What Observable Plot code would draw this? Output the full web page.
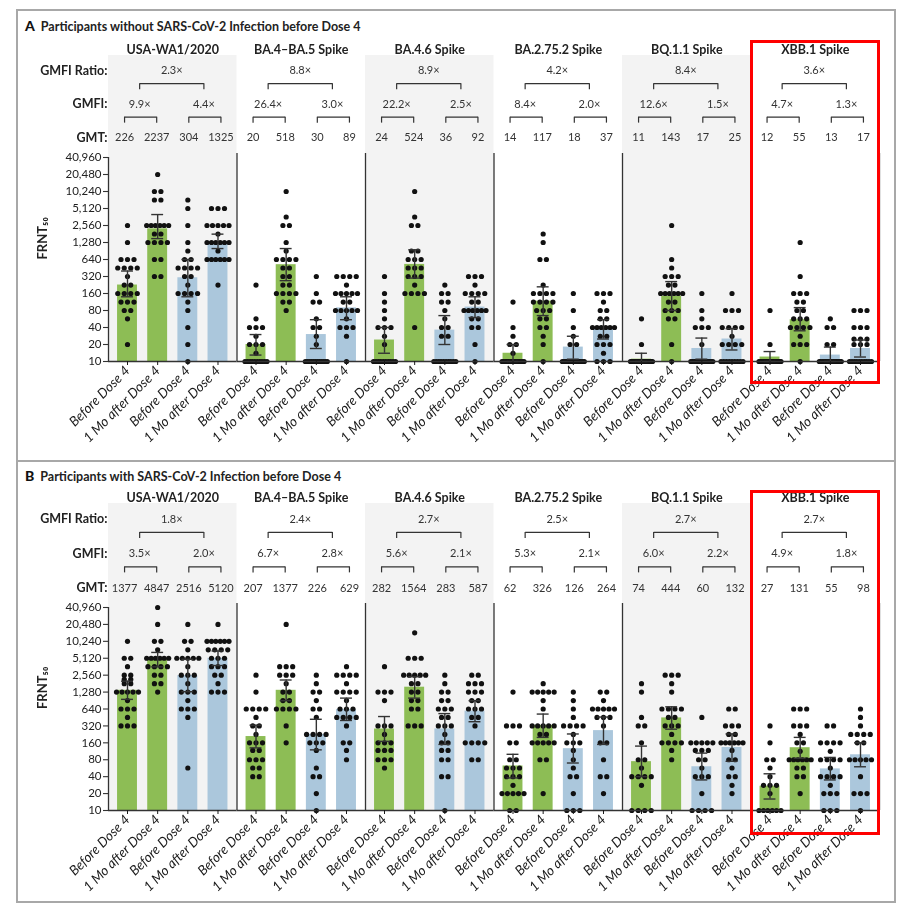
<!DOCTYPE html>
<html><head><meta charset="utf-8">
<script src="https://cdn.jsdelivr.net/npm/d3@7"></script>
<script src="https://cdn.jsdelivr.net/npm/@observablehq/plot@0.6"></script>
<style>
body{margin:0;background:#fff;font-family:Lato,"Open Sans",sans-serif;}
#page{position:relative;width:899px;height:906px;overflow:hidden;background:#fff;}
.abs{position:absolute;}
.ptitle{font-weight:bold;font-size:12.5px;color:#222;white-space:nowrap;}
.ptitle b{font-size:14px;margin-right:6px;color:#111;}
.redbox{position:absolute;border:3px solid #ff0000;box-sizing:border-box;}
svg{will-change:transform;}
</style></head><body><div id="page"></div>
<script>
// ---------- shared categories ----------
const groups = ["USA-WA1/2020","BA.4–BA.5 Spike","BA.4.6 Spike","BA.2.75.2 Spike","BQ.1.1 Spike","XBB.1 Spike"];
const slots = ["B1","A1","B2","A2"];
const slotLabels = ["Before Dose 4","1 Mo after Dose 4","Before Dose 4","1 Mo after Dose 4"];
const yTicks = [10,20,40,80,160,320,640,1280,2560,5120,10240,20480,40960];
const shadedGroups = ["USA-WA1/2020","BA.4.6 Spike","BQ.1.1 Spike"];
const headerRows = ["ratio","b1","gmfi","b2","gmt"];
const headerRowLabels = ["GMFI Ratio:","","GMFI:","","GMT:"];

// ---------- Panel A : without infection ----------
const titleA = "Participants without SARS-CoV-2 Infection before Dose 4";
const ratioA = [2.3,8.8,8.9,4.2,8.4,3.6];
const gmfiA = [[9.9,4.4],[26.4,3.0],[22.2,2.5],[8.4,2.0],[12.6,1.5],[4.7,1.3]];
const gmtA = [[226,2237,304,1325],[20,518,30,89],[24,524,36,92],[14,117,18,37],[11,143,17,25],[12,55,13,17]];
const ciLowA = [[140,1500,140,1000],[13,270,17,55],[14,300,20,60],[10,65,11,25],[10,80,11,16],[10,35,10,12]];
const ciHighA = [[400,4000,640,1800],[30,1000,55,140],[40,950,65,140],[20,210,28,55],[14,260,26,38],[15,90,18,24]];
// dots: [titer, number of participants at that titer]
const dotsA_WA1 = [
  [[2560,1],[1280,1],[640,3],[453,4],[320,1],[226,2],[160,4],[113,3],[80,2],[57,1],[20,1]],
  [[20480,1],[10240,2],[7240,2],[2560,6],[1810,2],[1280,4],[640,2],[320,2]],
  [[7240,1],[5120,1],[2560,1],[1280,1],[905,1],[640,2],[453,4],[320,2],[226,1],[160,4],[113,1],[80,1],[40,1],[20,1],[10,1]],
  [[5120,3],[2560,5],[1810,1],[1280,6],[905,1],[640,6],[226,1]]];
const dotsA_BA45 = [
  [[226,1],[57,1],[40,3],[28,1],[20,3],[14,1],[10,10]],
  [[10240,1],[3620,1],[2560,2],[1280,1],[905,1],[640,4],[453,2],[320,2],[226,2],[160,4],[113,2],[80,1]],
  [[320,1],[160,1],[113,2],[57,1],[40,2],[28,1],[20,1],[10,12]],
  [[320,4],[226,1],[160,5],[113,2],[80,5],[57,1],[40,3],[28,1],[10,1]]];
const dotsA_BA46 = [
  [[320,1],[160,1],[113,1],[80,1],[57,1],[40,3],[28,1],[20,1],[10,10]],
  [[10240,1],[3620,1],[2560,2],[905,2],[640,3],[453,3],[320,3],[226,1],[160,4],[40,1]],
  [[226,1],[160,2],[113,2],[80,1],[57,1],[40,2],[28,2],[10,10]],
  [[320,3],[226,1],[160,4],[113,2],[80,6],[57,2],[40,2],[20,1],[10,1]]];
const dotsA_BA2752 = [
  [[113,1],[40,1],[28,1],[20,2],[14,1],[10,14]],
  [[1810,1],[1280,1],[640,2],[226,1],[160,4],[113,4],[80,3],[57,2],[40,2],[28,1],[20,1],[10,1]],
  [[160,1],[80,1],[40,1],[28,1],[20,2],[10,14]],
  [[160,3],[113,1],[80,2],[57,2],[40,6],[28,2],[20,3],[14,1],[10,3]]];
const dotsA_BQ11 = [
  [[57,1],[20,1],[10,18]],
  [[2560,1],[640,1],[453,1],[320,3],[226,2],[160,6],[113,2],[80,3],[57,2],[20,1],[10,1]],
  [[160,1],[80,1],[57,1],[40,3],[20,1],[10,14]],
  [[160,1],[80,3],[40,4],[28,1],[20,4],[10,9]]];
const dotsA_XBB1 = [
  [[80,1],[20,1],[10,18]],
  [[1280,1],[320,1],[160,3],[113,2],[80,2],[57,3],[40,4],[28,1],[20,3],[10,1]],
  [[57,1],[40,2],[20,2],[10,15]],
  [[80,3],[40,3],[25,3],[20,3],[10,10]]];

// ---------- Panel B : with infection ----------
const titleB = "Participants with SARS-CoV-2 Infection before Dose 4";
const ratioB = [1.8,2.4,2.7,2.5,2.7,2.7];
const gmfiB = [[3.5,2.0],[6.7,2.8],[5.6,2.1],[5.3,2.1],[6.0,2.2],[4.9,1.8]];
const gmtB = [[1377,4847,2516,5120],[207,1377,226,629],[282,1564,283,587],[62,326,126,264],[74,444,60,132],[27,131,55,98]];
const ciLowB = [[950,3600,1300,3800],[130,900,120,400],[170,1000,150,380],[38,200,70,150],[40,280,35,75],[16,85,35,60]];
const ciHighB = [[2000,6500,4900,6900],[330,2100,420,1000],[470,2400,530,900],[100,520,230,460],[140,700,105,230],[45,200,88,160]];
const dotsB_WA1 = [
  [[10240,1],[5120,2],[3620,1],[2560,2],[2150,2],[1810,2],[1280,5],[905,1],[640,3],[453,1],[320,3]],
  [[40960,1],[20480,1],[10240,2],[7240,1],[5120,6],[3620,4],[2560,2],[1810,2],[1280,1]],
  [[20480,1],[10240,2],[7240,1],[5120,5],[3620,1],[2560,3],[1810,1],[1280,3],[905,1],[640,3],[453,1],[57,1]],
  [[20480,1],[10240,6],[7240,4],[5120,3],[3620,3],[2560,2],[1810,1],[1280,3]]];
const dotsB_BA45 = [
  [[2560,1],[1280,1],[640,4],[453,1],[320,2],[226,1],[160,3],[117,2],[80,3],[57,2],[40,2]],
  [[20480,1],[3620,3],[2560,3],[1810,1],[1280,2],[905,2],[640,4],[320,1],[160,1]],
  [[2560,1],[1810,1],[1280,2],[905,1],[640,2],[453,1],[226,4],[160,3],[117,1],[57,1],[40,2],[20,1],[10,1]],
  [[3620,1],[2560,4],[1810,1],[1280,4],[905,1],[640,3],[453,4],[320,1],[160,2],[117,1],[80,1]]];
const dotsB_BA46 = [
  [[3620,1],[1280,3],[905,1],[320,3],[226,1],[160,3],[117,3],[80,3],[57,1]],
  [[14500,1],[5120,3],[2560,5],[1810,2],[1280,2],[905,2],[640,2],[320,3]],
  [[2560,1],[1810,1],[1280,2],[905,2],[640,3],[453,2],[320,3],[226,1],[160,2],[117,2],[80,2],[40,2],[10,1]],
  [[2560,2],[1810,3],[1280,3],[905,2],[640,3],[453,2],[320,1],[160,4],[80,2]]];
const dotsB_BA2752 = [
  [[1280,1],[320,3],[160,2],[80,2],[57,3],[40,3],[28,1],[20,5],[10,2]],
  [[1810,1],[1280,5],[905,1],[640,1],[320,5],[226,2],[160,5],[80,2],[20,1]],
  [[1280,1],[905,1],[640,1],[453,1],[320,4],[226,1],[160,3],[117,1],[80,1],[57,1],[40,2],[20,1],[10,3]],
  [[1280,2],[905,1],[640,5],[453,3],[320,1],[160,2],[80,1],[40,2],[20,1]]];
const dotsB_BQ11 = [
  [[1810,1],[1280,1],[453,1],[320,2],[160,1],[80,2],[57,1],[40,4],[28,1],[10,4]],
  [[2560,3],[1810,1],[1280,1],[640,4],[453,2],[320,3],[226,1],[160,4],[117,1],[80,1]],
  [[453,1],[160,5],[117,3],[80,2],[57,1],[40,3],[20,1],[10,4]],
  [[640,2],[320,3],[226,2],[160,6],[117,1],[80,2],[57,1],[40,2],[28,1],[20,1]]];
const dotsB_XBB1 = [
  [[320,1],[160,1],[80,2],[57,1],[40,1],[28,3],[20,1],[10,6]],
  [[640,3],[320,3],[226,1],[160,2],[113,1],[80,6],[57,2],[40,2],[20,1]],
  [[320,2],[160,4],[113,1],[80,4],[57,1],[40,4],[28,1],[20,3],[10,3]],
  [[640,1],[453,1],[320,1],[226,4],[160,2],[80,5],[40,1],[20,3],[10,1]]];

// ---------- layout / style ----------
const W = 899, mL = 108, mR = 20;
const padIn = 0.34, padOut = 0.3;
const fxBand = (W - mL - mR) / groups.length;
const step = fxBand / (slots.length - padIn + 2 * padOut);
const bw = step * (1 - padIn);
const sepDx = bw / 2 + padOut * step;
const green = "#8dbd55", blue = "#abc7dc", shade = "#f3f3f3", ink = "#222", lineInk = "#333";
const font = "Lato, 'Open Sans', sans-serif";
const fmtTick = d3.format(",");

function dotLayers(dotsByGroup) {
  const byOffset = new Map();
  dotsByGroup.forEach((bars, gi) => bars.forEach((pairs, si) => pairs.forEach(([v, n]) => {
    const sp = n > 1 ? Math.min(6.5, 22 / (n - 1)) : 0;
    for (let j = 0; j < n; j++) {
      const off = Math.round(((j - (n - 1) / 2) * sp) * 4) / 4;
      if (!byOffset.has(off)) byOffset.set(off, []);
      byOffset.get(off).push({group: groups[gi], slot: slots[si], value: v});
    }
  })));
  return [...byOffset].map(([off, arr]) =>
    Plot.dot(arr, {fx: "group", x: "slot", y: "value", dx: off, r: 2.6, fill: "#111", stroke: "none"}));
}

function panel(cfg) {
  const page = document.getElementById("page");
  const t = document.createElement("div");
  t.className = "abs ptitle";
  t.style.left = "25px"; t.style.top = cfg.titleTop + "px";
  t.innerHTML = `<b>${cfg.letter}</b>${cfg.title}`;
  page.appendChild(t);

  const hMT = 26, hRow = cfg.rowH, hMB = cfg.headerH - hMT - hRow * headerRows.length;
  const ratioData = groups.map((g, i) => ({group: g, text: cfg.ratio[i].toFixed(1) + "×"}));
  const gmfiData = groups.flatMap((g, i) => [{group: g, slot: "B1", text: cfg.gmfi[i][0].toFixed(1) + "×"},
                                              {group: g, slot: "B2", text: cfg.gmfi[i][1].toFixed(1) + "×"}]);
  const gmtData = groups.flatMap((g, i) => slots.map((s, j) => ({group: g, slot: s, text: String(cfg.gmt[i][j])})));
  const lowPairs = groups.flatMap(g => [{group: g, x1: "B1", x2: "A1"}, {group: g, x1: "B2", x2: "A2"}]);
  const lowLegs = groups.flatMap(g => slots.map(s => ({group: g, slot: s})));
  const topLegs = groups.flatMap(g => [{group: g, slot: "B1"}, {group: g, slot: "B2"}]);
  const hs = {fontSize: 11, fill: "#333"};

  const header = Plot.plot({
    width: W, height: cfg.headerH, marginLeft: mL, marginRight: mR, marginTop: hMT, marginBottom: hMB,
    style: {fontFamily: font, background: "transparent", overflow: "visible", color: ink},
    fx: {domain: groups, padding: 0, round: false, label: null},
    x: {domain: slots, paddingInner: padIn, paddingOuter: padOut, round: false, axis: null},
    y: {type: "band", domain: headerRows, padding: 0, round: false},
    marks: [
      Plot.rect(shadedGroups, {fx: d => d, fill: shade, insetTop: -7, insetBottom: -hMB}),
      Plot.axisFx({anchor: "top", tickSize: 0, tickPadding: 9, fontWeight: "bold", fontSize: 12.5, label: null, fill: ink}),
      Plot.axisY({tickSize: 0, tickPadding: 1, fontWeight: "bold", fontSize: 12.5, fill: ink, label: null,
        tickFormat: r => headerRowLabels[headerRows.indexOf(r)]}),
      Plot.text(ratioData, {fx: "group", x: () => "A1", y: () => "ratio", dx: step / 2, text: "text", ...hs}),
      Plot.link(groups, {fx: d => d, x1: () => "B1", x2: () => "B2", y1: () => "b1", y2: () => "b1", dx: step / 2, dy: -4, stroke: lineInk, strokeWidth: 1.2}),
      Plot.tickX(topLegs, {fx: "group", x: "slot", y: () => "b1", dx: step / 2, insetTop: hRow / 2 - 4, insetBottom: hRow / 2 - 2, stroke: lineInk, strokeWidth: 1.2}),
      Plot.text(gmfiData, {fx: "group", x: "slot", y: () => "gmfi", dx: step / 2, text: "text", ...hs}),
      Plot.link(lowPairs, {fx: "group", x1: "x1", x2: "x2", y1: () => "b2", y2: () => "b2", dy: -4, stroke: lineInk, strokeWidth: 1.2}),
      Plot.tickX(lowLegs, {fx: "group", x: "slot", y: () => "b2", insetTop: hRow / 2 - 4, insetBottom: hRow / 2 - 2, stroke: lineInk, strokeWidth: 1.2}),
      Plot.text(gmtData, {fx: "group", x: "slot", y: () => "gmt", text: "text", ...hs})
    ]
  });
  header.style.position = "absolute"; header.style.left = "0px"; header.style.top = cfg.headerTop + "px";
  page.appendChild(header);

  const bars = groups.flatMap((g, i) => slots.map((s, j) => ({
    group: g, slot: s, gmt: cfg.gmt[i][j], lo: cfg.ciLow[i][j], hi: cfg.ciHigh[i][j], pair: j < 2 ? "g" : "b"})));
  const cMT = cfg.chartTop0 - cfg.chartTop;
  const cMB = cfg.chartH - cMT - cfg.frameH;
  const chart = Plot.plot({
    width: W, height: cfg.chartH, marginLeft: mL, marginRight: mR, marginTop: cMT, marginBottom: cMB,
    style: {fontFamily: font, background: "transparent", overflow: "visible", color: ink},
    fx: {domain: groups, padding: 0, round: false, axis: null},
    x: {domain: slots, paddingInner: padIn, paddingOuter: padOut, round: false},
    y: {type: "log", domain: [yTicks[0], yTicks[yTicks.length - 1]], axis: null},
    marks: [
      Plot.rect(shadedGroups, {fx: d => d, fill: shade, insetTop: -cMT}),
      Plot.barY(bars, {fx: "group", x: "slot", y1: () => yTicks[0], y2: "gmt", fill: d => d.pair === "g" ? green : blue}),
      ...dotLayers(cfg.dots),
      Plot.ruleX(bars, {fx: "group", x: "slot", y1: "lo", y2: "hi", stroke: lineInk, strokeWidth: 1.4}),
      Plot.tickY(bars, {fx: "group", x: "slot", y: "lo", insetLeft: 4, insetRight: 4, stroke: lineInk, strokeWidth: 1.4}),
      Plot.tickY(bars, {fx: "group", x: "slot", y: "hi", insetLeft: 4, insetRight: 4, stroke: lineInk, strokeWidth: 1.4}),
      Plot.ruleX(groups, {fx: d => d, x: () => "A2", dx: sepDx, insetTop: -4, stroke: lineInk, strokeWidth: 1.3}),
      Plot.ruleX([groups[0]], {fx: d => d, x: () => "B1", dx: -sepDx, stroke: lineInk, strokeWidth: 1.3}),
      Plot.ruleY([yTicks[0]], {stroke: lineInk, strokeWidth: 1.3}),
      // y axis (ticks + labels) in the first facet
      Plot.ruleY(yTicks, {fx: () => groups[0], y: d => d, insetLeft: -5, insetRight: fxBand, stroke: lineInk, strokeWidth: 1.1}),
      Plot.text(yTicks, {fx: () => groups[0], y: d => d, frameAnchor: "left", dx: -7, textAnchor: "end",
        text: d => fmtTick(d), fontSize: 11.5, fill: ink}),
      Plot.axisX({tickRotate: -45, tickSize: 4, tickPadding: 3, fontSize: 13.5, fontStyle: "italic", label: null, color: "#1a1a1a",
        tickFormat: s => slotLabels[slots.indexOf(s)]}),
      Plot.text([groups[0]], {fx: d => d, frameAnchor: "left", rotate: -90, dx: -66, text: () => "FRNT₅₀", fontWeight: "bold", fontSize: 13, fill: ink})
    ]
  });
  chart.style.position = "absolute"; chart.style.left = "0px"; chart.style.top = cfg.chartTop + "px";
  page.appendChild(chart);

  const rb = document.createElement("div");
  rb.className = "redbox";
  rb.style.left = (mL + 5 * fxBand - 1) + "px";
  rb.style.width = (fxBand + 2) + "px";
  rb.style.top = cfg.redTop + "px";
  rb.style.height = (cfg.redBottom - cfg.redTop) + "px";
  page.appendChild(rb);
}

// frame lines
const page = document.getElementById("page");
const frame = document.createElement("div");
frame.className = "abs";
Object.assign(frame.style, {left: "16px", top: "9px", width: "880px", height: "894px", border: "2px solid #a8a8a8", boxSizing: "border-box"});
page.appendChild(frame);
const sep = document.createElement("div");
sep.className = "abs";
Object.assign(sep.style, {left: "16px", top: "460px", width: "880px", height: "2px", background: "#a8a8a8"});
page.appendChild(sep);

panel({letter: "A", title: titleA, titleTop: 17, ratio: ratioA, gmfi: gmfiA, gmt: gmtA, ciLow: ciLowA, ciHigh: ciHighA,
  dots: [dotsA_WA1, dotsA_BA45, dotsA_BA46, dotsA_BA2752, dotsA_BQ11, dotsA_XBB1],
  headerTop: 36, headerH: 114, rowH: 16.75, chartTop: 150, chartTop0: 157, chartH: 310, frameH: 204, redTop: 40, redBottom: 384});
panel({letter: "B", title: titleB, titleTop: 467, ratio: ratioB, gmfi: gmfiB, gmt: gmtB, ciLow: ciLowB, ciHigh: ciHighB,
  dots: [dotsB_WA1, dotsB_BA45, dotsB_BA46, dotsB_BA2752, dotsB_BQ11, dotsB_XBB1],
  headerTop: 484, headerH: 116, rowH: 17.25, chartTop: 600, chartTop0: 607, chartH: 300, frameH: 203, redTop: 490, redBottom: 835});
</script></body></html>
